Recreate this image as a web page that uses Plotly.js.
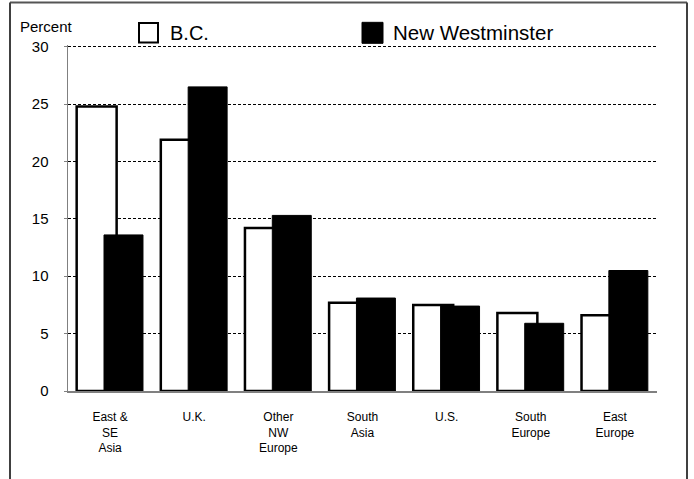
<!DOCTYPE html>
<html>
<head>
<meta charset="utf-8">
<script src="https://cdn.plot.ly/plotly-3.0.1.min.js"></script>
<style>html,body{margin:0;padding:0;background:#fff;}#chart{width:694px;height:479px;}</style>
</head>
<body>
<div id="chart"></div>
<script>
var categories = ["East &<br>SE<br>Asia", "U.K.", "Other<br>NW<br>Europe", "South<br>Asia", "U.S.", "South<br>Europe", "East<br>Europe"];
var seriesNames = ["B.C.", "New Westminster"];
var bcValues = [24.8, 21.9, 14.2, 7.7, 7.5, 6.8, 6.6];
var nwValues = [13.6, 26.5, 15.3, 8.1, 7.4, 5.9, 10.5];
var yTicks = [0, 5, 10, 15, 20, 25, 30];
var yAxisLabel = "Percent";

var FONT = "Arial, 'Liberation Sans', sans-serif";
var W = 694, H = 479;
var mL = 68, mR = 37, mT = 45.0, mB = 87.5;
var pw = W - mL - mR, ph = H - mT - mB;
function px(x) { return (x - mL) / pw; }
function py(y) { return (H - mB - y) / ph; }

var traces = [
  {
    type: "bar", name: seriesNames[0], x: categories, y: bcValues,
    offset: -0.397, width: 0.475,
    marker: { color: "#ffffff", line: { color: "#000000", width: 2.5 } },
    showlegend: false, hoverinfo: "x+y"
  },
  {
    type: "bar", name: seriesNames[1], x: categories, y: nwValues,
    offset: -0.072, width: 0.463,
    marker: { color: "#000000", line: { color: "#000000", width: 1 } },
    showlegend: false, hoverinfo: "x+y"
  }
];

var layout = {
  width: W, height: H,
  margin: { l: mL, r: mR, t: mT, b: mB, pad: 0 },
  paper_bgcolor: "#ffffff", plot_bgcolor: "#ffffff",
  barmode: "overlay",
  showlegend: false,
  font: { family: FONT, color: "#000000" },
  xaxis: {
    type: "category",
    showgrid: false, zeroline: false,
    showline: true, linecolor: "#808080", linewidth: 1.5,
    ticks: "", ticklabelstandoff: 14,
    tickfont: { family: FONT, size: 12, color: "#000000" },
    fixedrange: true
  },
  yaxis: {
    range: [0, 30.15], tickvals: yTicks, ticktext: yTicks.map(String),
    showgrid: true, gridcolor: "#000000", gridwidth: 1, griddash: "3px,2px",
    zeroline: false,
    showline: true, linecolor: "#808080", linewidth: 1.5,
    ticks: "outside", ticklen: 3, tickcolor: "#808080", ticklabelstandoff: 12,
    tickfont: { family: FONT, size: 15, color: "#000000" },
    fixedrange: true
  },
  shapes: [
    { type: "line", xref: "paper", yref: "paper",
      x0: px(10), x1: px(687), y0: py(2.5), y1: py(2.5),
      line: { color: "#555555", width: 2 }, layer: "above" },
    { type: "line", xref: "paper", yref: "paper",
      x0: px(10), x1: px(10), y0: py(485), y1: py(2.5),
      line: { color: "#404040", width: 2 }, layer: "above" },
    { type: "line", xref: "paper", yref: "paper",
      x0: px(687), x1: px(687), y0: py(485), y1: py(2.5),
      line: { color: "#404040", width: 2 }, layer: "above" },
    { type: "rect", xref: "paper", yref: "paper",
      x0: px(139), x1: px(158), y0: py(42.5), y1: py(23),
      line: { color: "#000000", width: 2 }, fillcolor: "#ffffff" },
    { type: "rect", xref: "paper", yref: "paper",
      x0: px(362), x1: px(383), y0: py(43.3), y1: py(22.3),
      line: { color: "#000000", width: 1 }, fillcolor: "#000000" }
  ],
  annotations: [
    { xref: "paper", yref: "paper", x: px(46), y: py(26), xanchor: "center", yanchor: "middle",
      text: yAxisLabel, showarrow: false, font: { family: FONT, size: 15, color: "#000000" } },
    { xref: "paper", yref: "paper", x: px(168), y: py(32.5), xanchor: "left", yanchor: "middle",
      text: seriesNames[0], showarrow: false, font: { family: FONT, size: 20, color: "#000000" } },
    { xref: "paper", yref: "paper", x: px(391), y: py(32.5), xanchor: "left", yanchor: "middle",
      text: seriesNames[1], showarrow: false, font: { family: FONT, size: 20.5, color: "#000000" } }
  ]
};

Plotly.newPlot("chart", traces, layout, { staticPlot: true, displayModeBar: false });
</script>
</body>
</html>
